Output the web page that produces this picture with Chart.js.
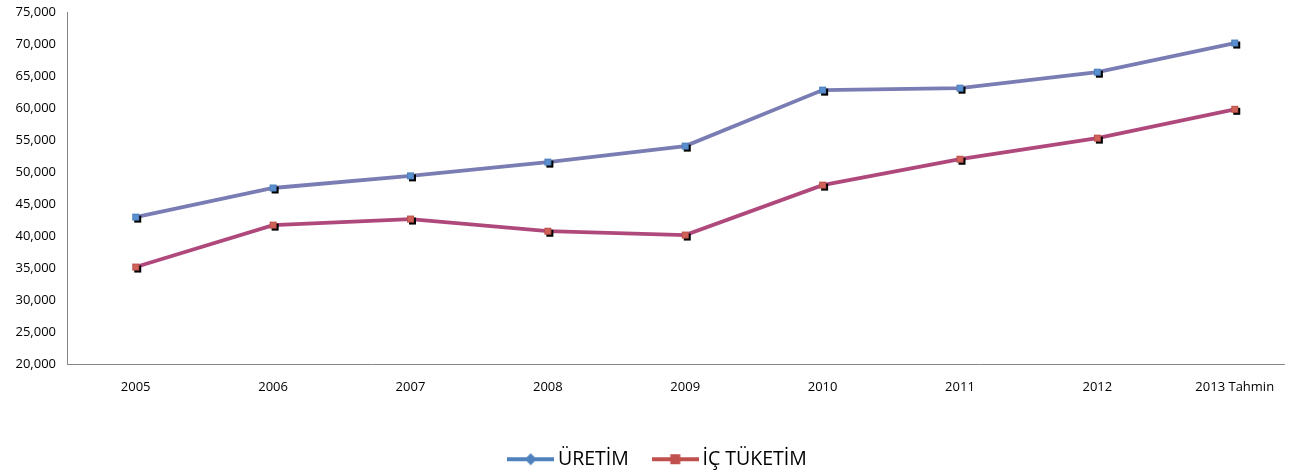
<!DOCTYPE html>
<html>
<head>
<meta charset="utf-8">
<script src="https://cdn.jsdelivr.net/npm/chart.js@4/dist/chart.umd.min.js"></script>
<style>
  html, body { margin: 0; padding: 0; background: #fff; }
  #wrap { width: 1292px; height: 472px; }
</style>
</head>
<body>
<div id="wrap"><canvas id="c" width="1292" height="472"></canvas></div>
<script>
// Üretim ve iç tüketim, 2005–2013 (2013 tahmin)
const years = ["2005", "2006", "2007", "2008", "2009", "2010", "2011", "2012", "2013 Tahmin"];
const uretim = [42950, 47500, 49400, 51550, 54050, 62800, 63100, 65600, 70150];
const icTuketim = [35150, 41700, 42650, 40750, 40150, 47950, 52000, 55300, 59800];
const yTicks = [20000, 25000, 30000, 35000, 40000, 45000, 50000, 55000, 60000, 65000, 70000, 75000];

// kare işaret + siyah gölge (Excel marker görünümü)
function marker(fill, stroke) {
  const c = document.createElement("canvas");
  c.width = 13; c.height = 13;
  const g = c.getContext("2d");
  g.fillStyle = "#000";
  g.fillRect(5, 5, 7, 7);
  g.fillStyle = fill;
  g.fillRect(3, 3, 7, 7);
  g.strokeStyle = stroke;
  g.lineWidth = 0.8;
  g.strokeRect(3.4, 3.4, 6.2, 6.2);
  return c;
}

// lejant sembolü: çizgi + ortada işaret
function legendSym(color, shape) {
  const c = document.createElement("canvas");
  c.width = 47; c.height = 14;
  const g = c.getContext("2d");
  g.strokeStyle = color;
  g.lineWidth = 4;
  g.beginPath(); g.moveTo(0, 7); g.lineTo(47, 7); g.stroke();
  g.fillStyle = color;
  if (shape === "diamond") {
    g.beginPath(); g.moveTo(23.5, 1); g.lineTo(29.5, 7); g.lineTo(23.5, 13); g.lineTo(17.5, 7); g.closePath(); g.fill();
  } else {
    g.fillRect(18.5, 2, 10, 10);
  }
  return c;
}

const toPts = (arr) => arr.map((v, i) => ({ x: i, y: v }));
const tickFont = { family: "'Open Sans', sans-serif", size: 13 };
const LEGEND_PAD = 29, LEGEND_FONT = 19.5, PAD_BOTTOM = -7, LEGEND_SHIFT = 16;

// lejant Excel'deki gibi biraz sağda duruyor
const legendShift = {
  id: "legendShift",
  afterLayout(chart) {
    chart.legend.left += LEGEND_SHIFT;
    chart.legend.right += LEGEND_SHIFT;
  },
};

new Chart(document.getElementById("c"), {
  type: "line",
  data: {
    datasets: [
      {
        label: "ÜRETİM",
        data: toPts(uretim),
        borderColor: "#7A7DB3",
        borderWidth: 3.8,
        tension: 0,
        pointStyle: marker("#5A8FD0", "#4A7CB8"),
        pointRadius: 4,
        legendSym: legendSym("#4F81BD", "diamond"),
      },
      {
        label: "İÇ TÜKETİM",
        data: toPts(icTuketim),
        borderColor: "#B0497B",
        borderWidth: 3.8,
        tension: 0,
        pointStyle: marker("#D06259", "#B85048"),
        pointRadius: 4,
        legendSym: legendSym("#C0504D", "square"),
      },
    ],
  },
  plugins: [legendShift],
  options: {
    responsive: false,
    animation: false,
    devicePixelRatio: 1,
    layout: { padding: { top: 0, right: 4, left: 0, bottom: PAD_BOTTOM } },
    plugins: {
      tooltip: { enabled: false },
      legend: {
        position: "bottom",
        labels: {
          usePointStyle: true,
          pointStyleWidth: 35,
          padding: LEGEND_PAD,
          color: "#000",
          font: { family: "'Open Sans', sans-serif", size: LEGEND_FONT, lineHeight: 1 },
          generateLabels: (chart) => chart.data.datasets.map((ds, i) => ({
            text: ds.label,
            pointStyle: ds.legendSym,
            fillStyle: ds.borderColor,
            strokeStyle: ds.borderColor,
            lineWidth: 0,
            hidden: false,
            datasetIndex: i,
          })),
        },
      },
    },
    scales: {
      x: {
        type: "linear",
        min: -0.5,
        max: 8.36,
        afterBuildTicks: (s) => { s.ticks = years.map((_, i) => ({ value: i })); },
        afterFit: (s) => { s.height = 472 - PAD_BOTTOM - (LEGEND_FONT + LEGEND_PAD + 10) - 364; },
        grid: { display: false, drawTicks: false },
        border: { display: true, color: "#868686", width: 1 },
        ticks: {
          color: "#000",
          font: tickFont,
          padding: 15,
          maxRotation: 0,
          autoSkip: false,
          callback: (v) => years[v],
        },
      },
      y: {
        min: 20000,
        max: 75000,
        afterBuildTicks: (s) => { s.ticks = yTicks.map((v) => ({ value: v })); },
        afterFit: (s) => { s.width = 67; s.paddingTop = 12; },
        grid: { display: false, drawTicks: false },
        border: { display: true, color: "#868686", width: 1 },
        ticks: {
          color: "#000",
          font: tickFont,
          padding: 11,
          callback: (v) => v.toLocaleString("en-US"),
        },
      },
    },
  },
});
</script>
</body>
</html>
